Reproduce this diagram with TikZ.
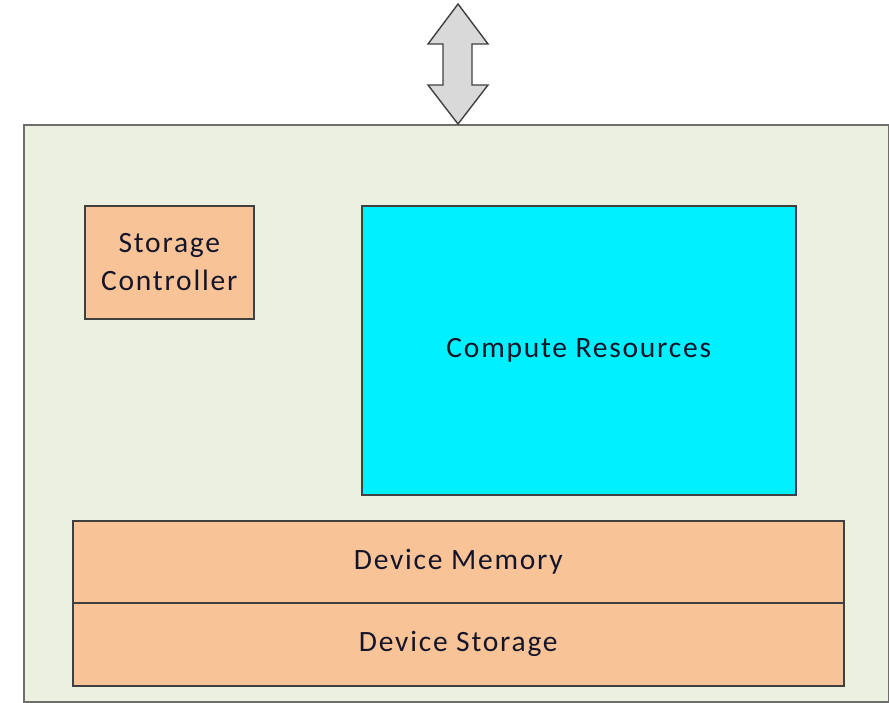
\documentclass[tikz,border=0pt]{standalone}
\usepackage{fontspec}
\setmainfont{Carlito}[LetterSpace=6]
\definecolor{boardfill}{HTML}{EBF0DF}
\definecolor{boardline}{HTML}{6E6E6E}
\definecolor{tanfill}{HTML}{F9C398}
\definecolor{cyanfill}{HTML}{00F0FF}
\definecolor{arrowfill}{HTML}{D9D9D9}
\definecolor{labeltext}{HTML}{15152A}
\begin{document}
\begin{tikzpicture}[x=1pt,y=-1pt,
  board/.style={draw=boardline,fill=boardfill,line width=2.2pt},
  unit/.style={draw=black!75,line width=1.6pt,anchor=north west,inner sep=0pt,
    align=center,text=labeltext,font=\fontsize{29.5}{38}\selectfont},
  tanbox/.style={unit,fill=tanfill},
  cyanbox/.style={unit,fill=cyanfill}]
\useasboundingbox (0,0) rectangle (889,702);
% outer board
\path[board] (24,125) rectangle (889,702);
% two-way arrow on top of the board
\coordinate (top) at (458,4);
\coordinate (bottom) at (458,124);
\draw[draw=black!75,fill=arrowfill,line width=1.4pt,line join=miter]
  (top) -- (488,44) -- (472,44) -- (472,85) -- (488,85) -- (bottom)
  -- (428,85) -- (443,85) -- (443,44) -- (428,44) -- cycle;
% blocks
\node[tanbox,minimum width=169pt,minimum height=113pt] (ctrl) at (84,205)
  {Storage\\Controller};
\node[cyanbox,minimum width=434pt,minimum height=289pt] (compute) at (361,205)
  {Compute Resources};
\node[tanbox,minimum width=771pt,minimum height=82pt] (mem) at (72,520)
  {Device Memory};
\node[tanbox,minimum width=771pt,minimum height=83pt] (store) at (72,602)
  {Device Storage};
\end{tikzpicture}
\end{document}
